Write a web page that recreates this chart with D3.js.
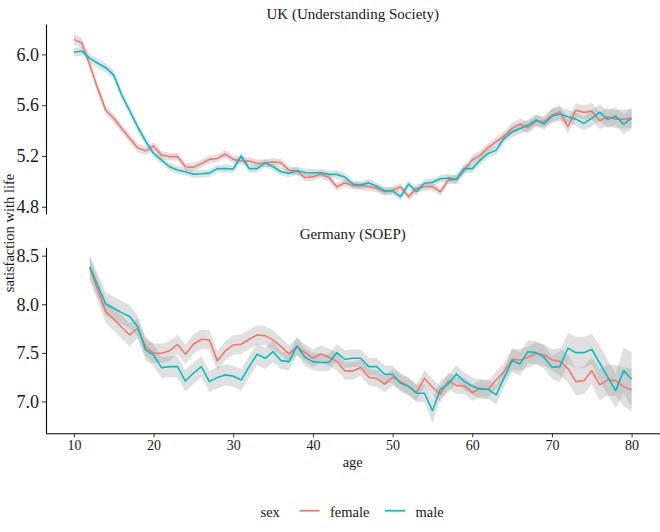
<!DOCTYPE html>
<html><head><meta charset="utf-8">
<script src="https://cdn.jsdelivr.net/npm/d3@7"></script>
<style>body{margin:0;background:#fff}</style>
</head><body>
<svg id="c" width="660" height="532"></svg>
<script>
// ---------- DATA ----------
const ukAges = [10,11,12,13,14,15,16,17,18,19,20,21,22,23,24,25,26,27,28,29,30,31,32,33,34,35,36,37,38,39,40,41,42,43,44,45,46,47,48,49,50,51,52,53,54,55,56,57,58,59,60,61,62,63,64,65,66,67,68,69,70,71,72,73,74,75,76,77,78,79,80];
const ukFemale = [6.118,6.09,5.916,5.73,5.56,5.496,5.417,5.34,5.265,5.24,5.278,5.207,5.195,5.195,5.115,5.11,5.14,5.173,5.18,5.215,5.173,5.16,5.16,5.142,5.142,5.154,5.146,5.089,5.08,5.03,5.035,5.057,5.03,4.957,4.989,4.965,4.965,4.957,4.945,4.918,4.93,4.957,4.88,4.945,4.957,4.96,4.918,5.01,5.016,5.09,5.168,5.207,5.268,5.312,5.357,5.417,5.449,5.422,5.475,5.47,5.52,5.548,5.43,5.56,5.543,5.553,5.477,5.509,5.49,5.49,5.496];
const ukMale = [6.016,6.026,5.968,5.93,5.895,5.837,5.68,5.556,5.43,5.317,5.22,5.168,5.115,5.09,5.076,5.057,5.06,5.065,5.1,5.1,5.097,5.2,5.1,5.1,5.146,5.115,5.076,5.063,5.083,5.07,5.068,5.068,5.055,5.055,5.035,4.979,4.97,4.99,4.96,4.925,4.925,4.88,4.978,4.92,4.985,4.993,5.02,5.027,5.015,5.1,5.1,5.168,5.22,5.246,5.339,5.39,5.417,5.443,5.483,5.451,5.514,5.53,5.509,5.49,5.457,5.496,5.543,5.488,5.514,5.451,5.496];
// half-width of the confidence band
const ukFemaleCI = [0.04,0.04,0.035,0.035,0.035,0.035,0.035,0.035,0.035,0.035,0.03,0.03,0.03,0.03,0.03,0.03,0.03,0.03,0.03,0.03,0.03,0.03,0.03,0.03,0.03,0.03,0.03,0.03,0.03,0.03,0.03,0.03,0.03,0.03,0.03,0.03,0.03,0.03,0.03,0.03,0.03,0.03,0.03,0.03,0.03,0.03,0.03,0.03,0.035,0.035,0.035,0.035,0.035,0.035,0.035,0.045,0.045,0.045,0.045,0.045,0.055,0.055,0.055,0.055,0.055,0.065,0.065,0.07,0.07,0.075,0.075];
const ukMaleCI = [0.035,0.035,0.035,0.035,0.035,0.035,0.035,0.035,0.035,0.035,0.03,0.03,0.03,0.03,0.03,0.03,0.03,0.03,0.03,0.03,0.03,0.03,0.03,0.03,0.03,0.03,0.03,0.03,0.03,0.03,0.03,0.03,0.03,0.03,0.03,0.03,0.03,0.03,0.03,0.03,0.03,0.03,0.03,0.03,0.03,0.03,0.03,0.03,0.035,0.035,0.035,0.035,0.035,0.035,0.035,0.045,0.045,0.045,0.045,0.045,0.055,0.055,0.055,0.055,0.055,0.065,0.065,0.07,0.07,0.08,0.08];

const deAges = [12,13,14,15,16,17,18,19,20,21,22,23,24,25,26,27,28,29,30,31,32,33,34,35,36,37,38,39,40,41,42,43,44,45,46,47,48,49,50,51,52,53,54,55,56,57,58,59,60,61,62,63,64,65,66,67,68,69,70,71,72,73,74,75,76,77,78,79,80];
const deFemale = [8.37,8.147,7.924,7.846,7.763,7.684,7.753,7.564,7.496,7.496,7.52,7.588,7.486,7.588,7.64,7.633,7.417,7.52,7.581,7.588,7.64,7.684,7.677,7.633,7.564,7.489,7.564,7.502,7.444,7.489,7.455,7.41,7.314,7.314,7.348,7.249,7.238,7.177,7.249,7.204,7.152,7.09,7.238,7.146,7.074,7.214,7.163,7.159,7.09,7.136,7.125,7.221,7.307,7.434,7.427,7.455,7.496,7.478,7.427,7.41,7.341,7.204,7.214,7.317,7.17,7.221,7.214,7.152,7.118];
const deMale = [8.387,8.19,8.0,7.959,7.914,7.873,7.77,7.53,7.478,7.348,7.358,7.358,7.21,7.29,7.358,7.204,7.245,7.273,7.26,7.22,7.358,7.486,7.444,7.512,7.42,7.41,7.571,7.455,7.41,7.4,7.4,7.502,7.434,7.444,7.444,7.358,7.358,7.28,7.28,7.187,7.159,7.084,7.084,6.905,7.125,7.18,7.283,7.204,7.159,7.125,7.125,7.067,7.245,7.42,7.386,7.512,7.502,7.455,7.352,7.358,7.547,7.502,7.502,7.537,7.393,7.249,7.111,7.317,7.228];
const deFemaleCI = [0.12,0.12,0.12,0.12,0.12,0.12,0.1,0.1,0.1,0.1,0.1,0.1,0.1,0.1,0.1,0.1,0.1,0.1,0.1,0.1,0.1,0.1,0.1,0.1,0.09,0.09,0.09,0.09,0.09,0.09,0.09,0.09,0.09,0.09,0.085,0.085,0.085,0.085,0.085,0.085,0.085,0.085,0.085,0.085,0.085,0.085,0.085,0.085,0.085,0.09,0.09,0.09,0.09,0.11,0.11,0.11,0.11,0.11,0.11,0.14,0.14,0.14,0.14,0.14,0.16,0.16,0.16,0.2,0.22];
const deMaleCI = [0.12,0.12,0.12,0.12,0.12,0.12,0.11,0.11,0.11,0.11,0.11,0.11,0.11,0.11,0.11,0.11,0.11,0.11,0.11,0.11,0.11,0.11,0.11,0.11,0.09,0.09,0.09,0.09,0.09,0.09,0.09,0.09,0.09,0.09,0.09,0.09,0.09,0.09,0.09,0.09,0.09,0.09,0.09,0.13,0.09,0.09,0.09,0.09,0.09,0.1,0.1,0.1,0.1,0.12,0.12,0.12,0.12,0.12,0.12,0.16,0.16,0.16,0.16,0.16,0.18,0.18,0.18,0.24,0.28];

const xTicks = [10,20,30,40,50,60,70,80];
const ukTicks = [4.8,5.2,5.6,6.0];
const deTicks = [7.0,7.5,8.0,8.5];
const panelTitles = ["UK (Understanding Society)", "Germany (SOEP)"];
const sexes = ["female","male"];
const colors = {female:"#F8766D", male:"#00BFC4"};

// ---------- DRAW ----------
const FONT = '"Liberation Serif"';
const svg = d3.select("#c");
const L = 46, R = 659.5;
const x = d3.scaleLinear().domain([6.5, 83.5]).range([L, R]);

const panels = [
  {title: panelTitles[0], ages: ukAges, vals:{female: ukFemale, male: ukMale}, ci:{female: ukFemaleCI, male: ukMaleCI},
   y: d3.scaleLinear().domain([4.743, 6.239]).range([214, 24]), ticks: ukTicks, titleY: 18.5},
  {title: panelTitles[1], ages: deAges, vals:{female: deFemale, male: deMale}, ci:{female: deFemaleCI, male: deMaleCI},
   y: d3.scaleLinear().domain([6.672, 8.586]).range([433.3, 247.3]), ticks: deTicks, titleY: 238.5}
];

function txt(sel, size) {
  return sel.style("font-family", FONT).attr("font-size", size).attr("fill", "#1a1a1a");
}

panels.forEach(p => {
  const g = svg.append("g");
  const rows = s => p.ages.map((a,i) => ({a, v: p.vals[s][i], lo: p.vals[s][i]-p.ci[s][i], hi: p.vals[s][i]+p.ci[s][i]}));
  const area = d3.area().x(d => x(d.a)).y0(d => p.y(d.lo)).y1(d => p.y(d.hi));
  const line = d3.line().x(d => x(d.a)).y(d => p.y(d.v));
  sexes.forEach(s => {
    g.append("path").datum(rows(s)).attr("d", area)
      .attr("fill", "#999999").attr("fill-opacity", 0.3).attr("stroke", "none");
  });
  sexes.forEach(s => {
    g.append("path").datum(rows(s)).attr("d", line)
      .attr("fill", "none").attr("stroke", colors[s]).attr("stroke-width", 1.6)
      .attr("stroke-linejoin", "round");
  });
  const ya = svg.append("g").attr("transform", `translate(${L},0)`)
    .call(d3.axisLeft(p.y).tickValues(p.ticks).tickSize(4).tickSizeOuter(0).tickPadding(3).tickFormat(d3.format(".1f")));
  ya.attr("font-family", null).attr("font-size", null);
  ya.select(".domain").attr("stroke", "#000").attr("stroke-width", 1.1);
  ya.selectAll(".tick line").attr("stroke", "#333").attr("stroke-width", 1);
  txt(ya.selectAll(".tick text"), 18);
  txt(svg.append("text").attr("x", (L+R)/2).attr("y", p.titleY).attr("text-anchor", "middle"), 15).text(p.title);
});

const xa = svg.append("g").attr("transform", `translate(0,433.3)`)
  .call(d3.axisBottom(x).tickValues(xTicks).tickSize(4).tickSizeOuter(0).tickPadding(3));
xa.attr("font-family", null).attr("font-size", null);
xa.select(".domain").attr("stroke", "#000").attr("stroke-width", 1.1);
xa.selectAll(".tick line").attr("stroke", "#333").attr("stroke-width", 1);
txt(xa.selectAll(".tick text"), 14);

txt(svg.append("text").attr("x", (L+R)/2).attr("y", 467).attr("text-anchor", "middle"), 14.5).text("age");
txt(svg.append("text").attr("transform", "translate(14,233) rotate(-90)").attr("text-anchor", "middle"), 14.5)
  .text("satisfaction with life");

const lg = svg.append("g");
txt(lg.append("text").attr("x", 260.5).attr("y", 517), 14.5).text("sex");
const keyX = {female: 299.5, male: 385};
sexes.forEach(s => {
  lg.append("line").attr("x1", keyX[s]).attr("x2", keyX[s]+20).attr("y1", 510.7).attr("y2", 510.7)
    .attr("stroke", colors[s]).attr("stroke-width", 1.8);
  txt(lg.append("text").attr("x", keyX[s]+30.5).attr("y", 517), 14.5).text(s);
});
</script>
</body></html>
